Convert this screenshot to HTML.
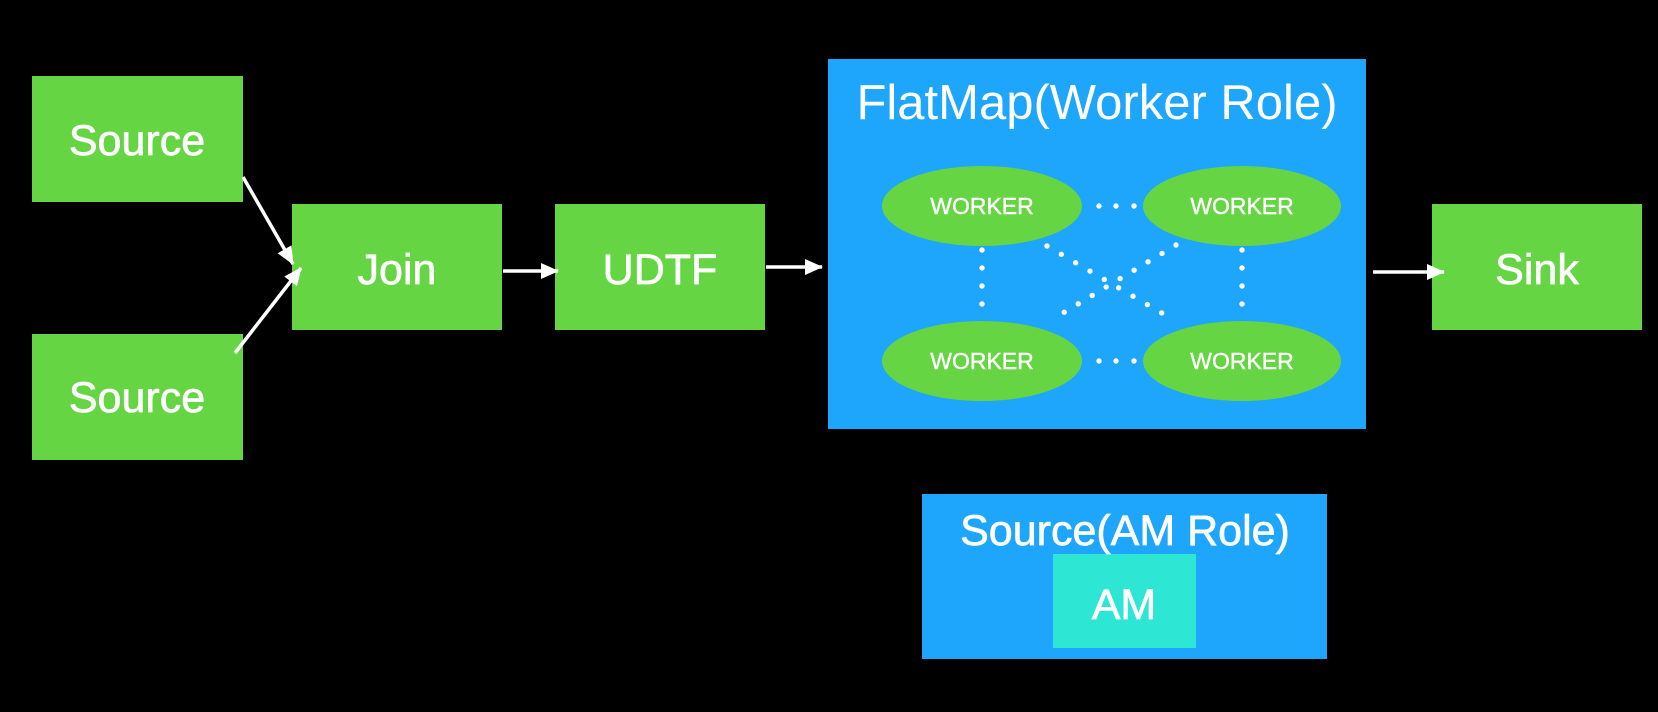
<!DOCTYPE html>
<html><head><meta charset="utf-8"><style>
html,body{margin:0;padding:0;background:#000;}
svg{display:block}
text{font-family:"Liberation Sans",Arial,sans-serif;fill:#fff;text-anchor:middle}
.m{stroke:#fff;stroke-width:0.7px}
</style></head><body>
<svg width="1658" height="712" viewBox="0 0 1658 712" xmlns="http://www.w3.org/2000/svg">
<rect width="1658" height="712" fill="#000"/>
<defs>
<marker id="b" markerWidth="18" markerHeight="16" refX="17" refY="8" orient="auto" markerUnits="userSpaceOnUse"><path d="M0,0 L18,8 L0,16 z" fill="#fff"/></marker></defs>
<g fill="#66d544">
<rect x="32" y="76" width="211" height="126"/>
<rect x="32" y="334" width="211" height="126"/>
<rect x="292" y="204" width="210" height="126"/>
<rect x="555" y="204" width="210" height="126"/>
<rect x="1432" y="204" width="210" height="126"/>
</g>
<rect x="828" y="59" width="538" height="370" fill="#1ea5fc"/>
<rect x="922" y="494" width="405" height="165" fill="#1ea5fc"/>
<rect x="1053" y="554" width="143" height="94" fill="#2ee6d4"/>
<g font-size="43" class="m">
<text x="137" y="155">Source</text>
<text x="137" y="412">Source</text>
<text x="397" y="284">Join</text>
<text x="660" y="284">UDTF</text>
<text x="1537" y="284">Sink</text>
<text x="1124" y="619">AM</text>
<text x="1125" y="545">Source(AM Role)</text>
</g>
<text x="1097" y="119" font-size="49">FlatMap(Worker Role)</text>
<g fill="#66d544">
<ellipse cx="982" cy="206" rx="100" ry="40"/>
<ellipse cx="1242" cy="206" rx="99" ry="40"/>
<ellipse cx="982" cy="361" rx="100" ry="40"/>
<ellipse cx="1242" cy="361" rx="99" ry="40"/>
</g>
<g font-size="23" class="m" style="stroke-width:0.4px">
<text x="982" y="214">WORKER</text>
<text x="1242" y="214">WORKER</text>
<text x="982" y="369">WORKER</text>
<text x="1242" y="369">WORKER</text>
</g>
<g fill="#fff">
<circle cx="1099" cy="206" r="2.7"/><circle cx="1116" cy="206" r="2.7"/><circle cx="1134" cy="206" r="2.7"/>
<circle cx="1099" cy="361" r="2.7"/><circle cx="1116" cy="361" r="2.7"/><circle cx="1134" cy="361" r="2.7"/>
<circle cx="982" cy="250" r="2.7"/><circle cx="982" cy="268" r="2.7"/><circle cx="982" cy="286" r="2.7"/><circle cx="982" cy="304" r="2.7"/>
<circle cx="1242" cy="250" r="2.7"/><circle cx="1242" cy="268" r="2.7"/><circle cx="1242" cy="286" r="2.7"/><circle cx="1242" cy="304" r="2.7"/>
</g>
<g stroke="#fff" stroke-width="5.4" stroke-linecap="round" fill="none">
<line x1="1047" y1="246" x2="1172" y2="319" stroke-dasharray="0 16.6"/>
<line x1="1176" y1="245" x2="1053" y2="319" stroke-dasharray="0 16.3"/>
</g>
<g stroke="#fff" stroke-width="3.5" fill="none">
<line x1="243" y1="177" x2="293" y2="264" marker-end="url(#b)"/>
<line x1="235" y1="353" x2="301" y2="268" marker-end="url(#b)"/>
<line x1="503" y1="271" x2="558" y2="271" marker-end="url(#b)"/>
<line x1="766" y1="267" x2="822" y2="267" marker-end="url(#b)"/>
<line x1="1373" y1="272" x2="1444" y2="272" marker-end="url(#b)"/>
</g>
</svg>
</body></html>
